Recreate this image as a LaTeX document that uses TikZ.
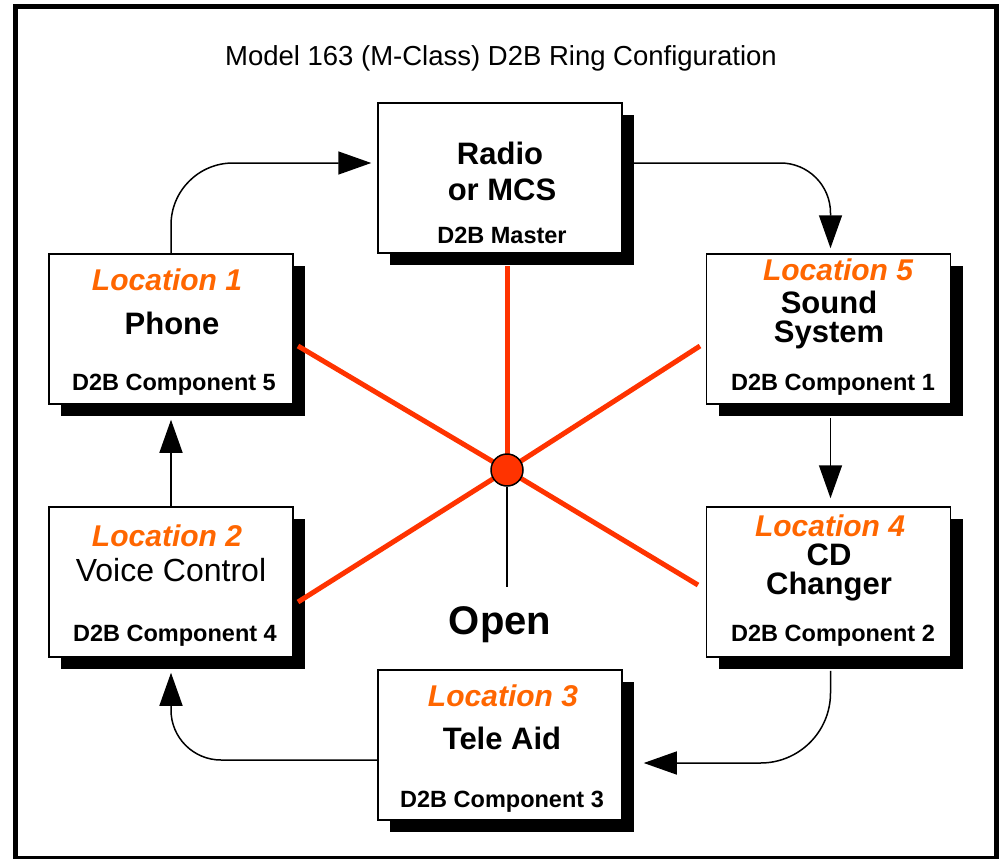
\documentclass[tikz,border=0pt]{standalone}
\usepackage{fontspec}
\setmainfont{Liberation Sans}
\usetikzlibrary{arrows.meta,shadows}
\definecolor{busred}{HTML}{FF3300}
\definecolor{locorange}{HTML}{FF6600}
\tikzset{
  unitbox/.style={draw,line width=1.5pt,fill=white,minimum width=244pt,minimum height=150pt,inner sep=0pt,
    drop shadow={shadow xshift=12pt,shadow yshift=-12pt,fill=black,opacity=1}},
  locnum/.style={text=locorange,font=\fontsize{30}{32}\selectfont\bfseries\itshape,inner sep=0pt},
  unitlbl/.style={font=\fontsize{31}{33}\selectfont\bfseries,inner sep=0pt},
  complbl/.style={font=\fontsize{23.5}{25}\selectfont\bfseries,inner sep=0pt},
  flow/.style={line width=1.5pt,-{Triangle[length=33pt,width=23pt]}},
  bus/.style={busred,line width=5pt},
}
\begin{document}
\begin{tikzpicture}[x=1pt,y=-1pt]
      \useasboundingbox (0,0) rectangle (1004,859);
      \draw[line width=5pt] (15,7) rectangle (996,858);
      \node[font=\fontsize{27.5}{29}\selectfont] (title) at (501,58) {Model 163 (M-Class) D2B Ring Configuration};

      % units on the ring
      \node[unitbox] (radio) at (500,178) {};
      \node[unitbox] (phone) at (171,329) {};
      \node[unitbox] (sound) at (828.5,329) {};
      \node[unitbox] (voice) at (171,582) {};
      \node[unitbox] (cd) at (828.5,582) {};
      \node[unitbox] (tele) at (500,745) {};

      \node[unitlbl] (radio1) at (500,153) {Radio};
      \node[unitlbl] (radio2) at (502,190) {or MCS};
      \node[complbl] (radio3) at (502,235) {D2B Master};

      \node[locnum] (phone1) at (167,280) {Location 1};
      \node[unitlbl] (phone2) at (172,323) {Phone};
      \node[complbl] (phone3) at (174,385) {D2B Component 5};

      \node[locnum] (sound1) at (838,270) {Location 5};
      \node[unitlbl] (sound2) at (829,302) {Sound};
      \node[unitlbl] (sound3) at (829,335) {System};
      \node[complbl] (sound4) at (833,385) {D2B Component 1};

      \node[locnum] (voice1) at (167,536) {Location 2};
      \node[font=\fontsize{32}{34}\selectfont,inner sep=0pt] (voice2) at (171,570) {Voice Control};
      \node[complbl] (voice3) at (175,636) {D2B Component 4};

      \node[locnum] (cd1) at (830,526) {Location 4};
      \node[unitlbl] (cd2) at (829,555) {CD};
      \node[unitlbl] (cd3) at (829,587) {Changer};
      \node[complbl] (cd4) at (833,636) {D2B Component 2};

      \node[locnum] (tele1) at (503,696) {Location 3};
      \node[unitlbl] (tele2) at (502,738) {Tele Aid};
      \node[complbl] (tele3) at (502,802) {D2B Component 3};

      % star bus
      \coordinate (busR) at (507,266);
      \coordinate (busP) at (298,346);
      \coordinate (busS) at (700,346);
      \coordinate (busV) at (298,602);
      \coordinate (busC) at (698,585);
      \coordinate (hubpos) at (507,470);
      \draw[bus] (hubpos) -- (busR);
      \draw[bus] (hubpos) -- (busP);
      \draw[bus] (hubpos) -- (busS);
      \draw[bus] (hubpos) -- (busV);
      \draw[bus] (hubpos) -- (busC);
      \node[circle,draw,line width=1.5pt,fill=busred,minimum size=32pt,inner sep=0pt] (hub) at (hubpos) {};
      \node[font=\fontsize{40}{42}\selectfont\bfseries] (open) at (500,625) {Open};
      \coordinate (openend) at (507,587);
      \draw[line width=1.5pt] (hub.south) -- (openend);

      % ring direction
      \draw[flow,rounded corners=62pt] (phone.north) |- ([xshift=-6pt,yshift=15pt]radio.west);
      \draw[flow,rounded corners=50pt] ([yshift=15pt]radio.east) -| ([xshift=2pt,yshift=5pt]sound.north);
      \draw[flow] ([xshift=2pt,yshift=-13pt]sound.south) -- ([xshift=2pt,yshift=8pt]cd.north);
      \draw[flow,rounded corners=70pt] ([xshift=2pt,yshift=-13pt]cd.south) |- ([xshift=21pt,yshift=-18pt]tele.east);
      \draw[flow,rounded corners=50pt] ([yshift=-15pt]tele.west) -| ([yshift=-15pt]voice.south);
      \draw[flow] (voice.north) -- ([yshift=-15pt]phone.south);
\end{tikzpicture}
\end{document}
